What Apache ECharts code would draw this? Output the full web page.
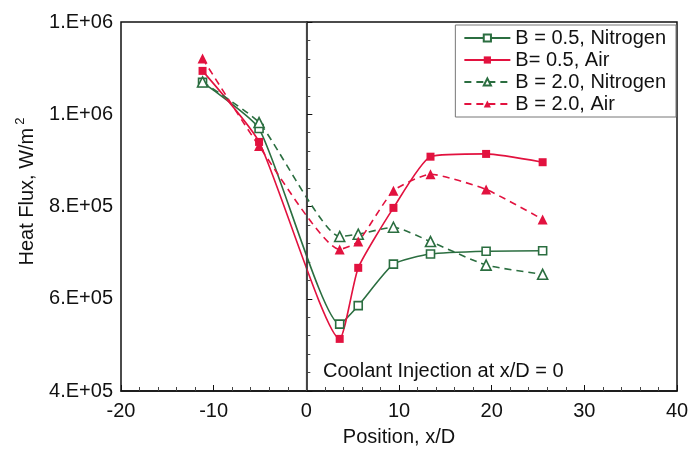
<!DOCTYPE html>
<html><head><meta charset="utf-8">
<script src="https://cdn.jsdelivr.net/npm/echarts@6/dist/echarts.min.js"></script>
<style>html,body{margin:0;padding:0;background:#fff}#c{width:690px;height:451px}</style>
</head><body><div id="c"></div>
<script>
const xPos = [-11.2, -5.1, 3.6, 5.6, 9.4, 13.4, 19.4, 25.5];
const b05N2  = [1069000, 969000, 545000, 585000, 675000, 697000, 703000, 704000];
const b05Air = [1094000, 940000, 513000, 667000, 797000, 908000, 914000, 896000];
const b20N2  = [1070000, 982000, 735000, 740000, 755000, 724000, 673000, 653000];
const b20Air = [1121000, 931000, 707000, 724000, 834000, 870000, 837000, 772000];
const names = ['B = 0.5, Nitrogen', 'B= 0.5, Air', 'B = 2.0, Nitrogen', 'B = 2.0, Air'];
const xTicks = {min: -20, max: 40, interval: 10};
const yTicks = {min: 400000, max: 1200000, interval: 200000};

const green = '#2b6e40', red = '#e2123f';
const FONT = 'Liberation Sans, Arial, sans-serif';
function pairs(v){ return xPos.map((x,i)=>[x, v[i]]); }
function ser(name, vals, color, dashed, symbol, filled){
  return {
    name, type:'line', data: pairs(vals), smooth: 0.18,
    symbol, symbolSize: symbol==='triangle'?10:8,
    lineStyle:{color, width:1.6, type: dashed?[7,5]:'solid'},
    itemStyle:{color: filled?color:'#fff', borderColor: color, borderWidth: filled?0:1.6},
    emphasis:{disabled:true}, z: 3
  };
}
const chart = echarts.init(document.getElementById('c'), null, {renderer:'canvas'});
const series = [
  ser(names[0], b05N2, green, false, 'rect', false),
  ser(names[1], b05Air, red, false, 'rect', true),
  ser(names[2], b20N2, green, true, 'triangle', false),
  ser(names[3], b20Air, red, true, 'triangle', true)
];
series[0].markLine = {
  silent:true, symbol:'none', label:{show:false},
  lineStyle:{color:'#444', width:1.2, type:'solid'},
  data:[{xAxis:0}]
};
chart.setOption({
  animation:false,
  backgroundColor:'#fff',
  grid:{left:121, right:13, top:22, bottom:60, containLabel:false, outerBoundsMode:'none',
        show:true, borderColor:'#111', borderWidth:1.5},
  legend:{
    data: names, orient:'vertical', right:14, top:25,
    itemWidth:46, itemHeight:9, itemGap:2,
    backgroundColor:'#fff', borderColor:'#777', borderWidth:1,
    padding:[3,10,3,8],
    textStyle:{fontFamily:FONT, fontSize:20, color:'#111', lineHeight:20}
  },
  xAxis:{
    type:'value', min:xTicks.min, max:xTicks.max, interval:xTicks.interval,
    name:'Position, x/D', nameLocation:'middle', nameGap:36,
    nameTextStyle:{fontFamily:FONT, fontSize:20, color:'#111'},
    axisLine:{lineStyle:{color:'#111', width:1.5}},
    axisTick:{inside:true, length:6, lineStyle:{color:'#111'}},
    minorTick:{show:true, splitNumber:5, length:4, lineStyle:{color:'#444'}},
    axisLabel:{fontFamily:FONT, fontSize:20, color:'#111', margin:10},
    splitLine:{show:false}
  },
  yAxis:{
    type:'value', min:yTicks.min, max:yTicks.max, interval:yTicks.interval,
    name:'Heat Flux, W/m{s|2}', nameLocation:'middle', nameGap:80,
    nameTextStyle:{fontFamily:FONT, fontSize:20, color:'#111', padding:[0,0,0,30],
      rich:{s:{fontFamily:FONT, fontSize:13, color:'#111', verticalAlign:'top', padding:[0,0,14,3]}}},
    axisLine:{lineStyle:{color:'#111', width:1.5}},
    axisTick:{inside:true, length:6, lineStyle:{color:'#111'}},
    minorTick:{show:true, splitNumber:5, length:4, lineStyle:{color:'#444'}},
    axisLabel:{fontFamily:FONT, fontSize:20, color:'#111', margin:8,
      formatter: v => { const e = Math.floor(Math.log10(v)); const m = Math.floor(v/Math.pow(10,e)); return m + '.E+' + String(e).padStart(2,'0'); }},
    splitLine:{show:false}
  },
  graphic:[{type:'text', left:323, top:361, style:{text:'Coolant Injection at x/D = 0', font:'20px '+FONT, fill:'#111'}}],
  series
});
</script></body></html>
